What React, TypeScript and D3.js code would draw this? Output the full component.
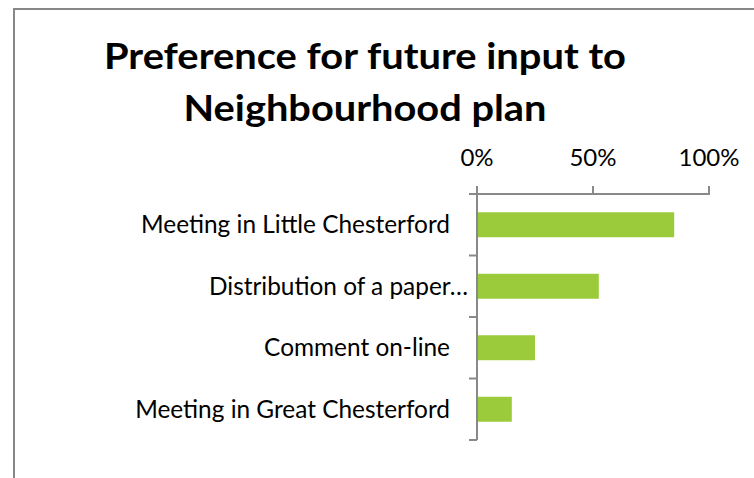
import React from "react";
import * as d3 from "d3";

const categories = [
  "Meeting in Little Chesterford",
  "Distribution of a paper…",
  "Comment on-line",
  "Meeting in Great Chesterford",
];
const values = [0.85, 0.525, 0.25, 0.15];
const tickValues = [0, 0.5, 1];
const tickLabels = ["0%", "50%", "100%"];
const titleLines = ["Preference for future input to", "Neighbourhood plan"];
const titleWidths = [522, 363];

const W = 754;
const H = 478;
const FONT = "Lato, 'Open Sans', sans-serif";
const AXIS = "#898989";
const BAR = "#9BCB3B";

export default function App() {
  const x = d3.scaleLinear().domain([0, 1]).range([477, 709]);
  const y = d3
    .scaleBand<string>()
    .domain(categories)
    .range([194, 440])
    .paddingInner(0.594)
    .paddingOuter(0.297);
  const yb = d3.scaleBand<string>().domain(categories).range([194, 440]).padding(0);
  const x0 = x(0);
  const yTop = yb.range()[0];
  const yBot = yb.range()[1];
  const tickLen = 8;

  return (
    <svg
      width={W}
      height={H}
      viewBox={`0 0 ${W} ${H}`}
      style={{ position: "fixed", left: 0, top: 0, background: "#fff" }}
    >
      <rect x={0} y={0} width={W} height={H} fill="#fff" />
      <rect x={14} y={9} width={W + 20} height={H + 20} fill="none" stroke="#878787" strokeWidth={2} />
      {titleLines.map((t, i) => (
        <text
          key={t}
          x={365}
          y={69 + i * 52}
          textAnchor="middle"
          fontFamily={FONT}
          fontWeight={700}
          fontSize={37}
          textLength={titleWidths[i]}
          lengthAdjust="spacingAndGlyphs"
          fill="#000"
        >
          {t}
        </text>
      ))}
      {/* top value axis */}
      <line x1={x0 - tickLen} x2={x(1) + 1} y1={yTop} y2={yTop} stroke={AXIS} strokeWidth={2} />
      {tickValues.map((v, i) => (
        <g key={v}>
          <line x1={x(v)} x2={x(v)} y1={yTop - tickLen} y2={yTop} stroke={AXIS} strokeWidth={2} />
          <text
            x={x(v)}
            y={166}
            textAnchor="middle"
            fontFamily={FONT}
            fontSize={24}
            fill="#000"
          >
            {tickLabels[i]}
          </text>
        </g>
      ))}
      {/* category axis */}
      <line x1={x0} x2={x0} y1={yTop - tickLen} y2={yBot} stroke={AXIS} strokeWidth={2} />
      {categories.map((c) => (
        <line
          key={c}
          x1={x0 - tickLen}
          x2={x0}
          y1={(yb(c) as number) + yb.bandwidth()}
          y2={(yb(c) as number) + yb.bandwidth()}
          stroke={AXIS}
          strokeWidth={2}
        />
      ))}
      {categories.map((c, i) => (
        <rect
          key={c}
          x={x0 + 1}
          y={y(c)}
          width={x(values[i]) - x0 - 1}
          height={y.bandwidth()}
          fill={BAR}
        />
      ))}
      {categories.map((c) => (
        <text
          key={c}
          x={c.endsWith("…") ? x0 - 9 : x0 - 27}
          y={(y(c) as number) + y.bandwidth() / 2}
          dy="0.35em"
          textAnchor="end"
          fontFamily={FONT}
          fontSize={24.4}
          fill="#000"
        >
          {c}
        </text>
      ))}
    </svg>
  );
}
